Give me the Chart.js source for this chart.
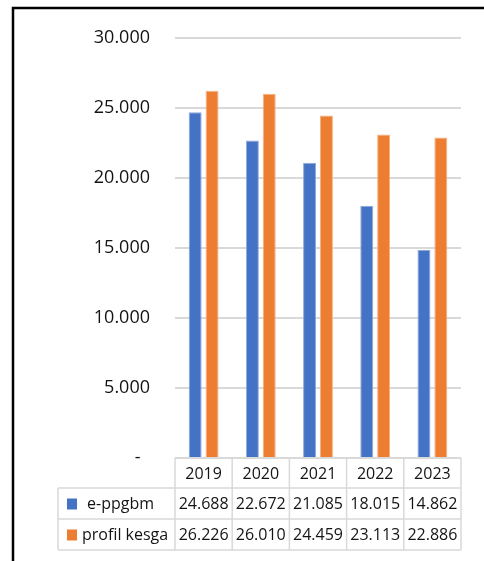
<!DOCTYPE html>
<html>
<head>
<meta charset="utf-8">
<script src="https://cdn.jsdelivr.net/npm/chart.js@4.4.1/dist/chart.umd.min.js"></script>
<style>
  html, body { margin: 0; padding: 0; background: #fff; }
  #wrap { position: relative; width: 484px; height: 561px; }
</style>
</head>
<body>
<div id="wrap"><canvas id="chart" width="484" height="561"></canvas></div>
<script>
// chart data
const years = ['2019', '2020', '2021', '2022', '2023'];
const eppgbm = [24688, 22672, 21085, 18015, 14862];
const profilKesga = [26226, 26010, 24459, 23113, 22886];
const seriesNames = ['e-ppgbm', 'profil kesga'];

const blue = '#4472C4';
const orange = '#ED7D31';
const textColor = '#141414';
const lineGrey = '#d9d9d9';

// 24688 -> "24.688"
function fmt(n) {
  return n.toString().replace(/\B(?=(\d{3})+(?!\d))/g, '.');
}

// frame + data table drawn under the plot, aligned to the x scale
const dataTable = {
  id: 'dataTable',
  afterDraw(chart) {
    const ctx = chart.ctx;
    const x = chart.scales.x;
    const area = chart.chartArea;
    const n = years.length;
    const colW = (area.right - area.left) / n;
    const rowH = 31;
    const legLeft = 58;
    const y0 = area.bottom;
    const y1 = y0 + rowH - 1;
    const y2 = y1 + rowH;
    const y3 = y2 + rowH;

    ctx.save();
    // outer frame (top + left edges only)
    ctx.strokeStyle = '#000';
    ctx.lineWidth = 2.5;
    ctx.beginPath();
    ctx.moveTo(13, 561);
    ctx.lineTo(13, 8);
    ctx.lineTo(484, 8);
    ctx.stroke();

    // table grid
    ctx.strokeStyle = lineGrey;
    ctx.lineWidth = 1.5;
    ctx.beginPath();
    ctx.moveTo(area.left, y0); ctx.lineTo(area.right, y0);
    [y1, y2, y3].forEach(y => { ctx.moveTo(legLeft, y); ctx.lineTo(area.right, y); });
    for (let i = 0; i <= n; i++) {
      const cx = area.left + i * colW;
      ctx.moveTo(cx, y0); ctx.lineTo(cx, y3);
    }
    ctx.moveTo(legLeft, y1); ctx.lineTo(legLeft, y3);
    ctx.stroke();

    // header + values
    ctx.fillStyle = textColor;
    ctx.font = '16px "Open Sans"';
    ctx.textAlign = 'center';
    ctx.textBaseline = 'middle';
    years.forEach((yr, i) => {
      const cx = x.getPixelForValue(i);
      ctx.fillText(yr, cx, (y0 + y1) / 2 + 1);
      ctx.fillText(fmt(eppgbm[i]), cx, (y1 + y2) / 2 + 1);
      ctx.fillText(fmt(profilKesga[i]), cx, (y2 + y3) / 2 + 1);
    });

    // legend keys
    ctx.textAlign = 'left';
    [[blue, y1, y2], [orange, y2, y3]].forEach(([col, a, b], k) => {
      const my = (a + b) / 2;
      ctx.fillStyle = col;
      ctx.fillRect(67, my - 5, 10, 11);
      ctx.fillStyle = textColor;
      ctx.fillText(seriesNames[k], k === 0 ? 87 : 82, my + 1);
    });
    ctx.restore();
  }
};

const ctx = document.getElementById('chart').getContext('2d');
new Chart(ctx, {
  type: 'bar',
  data: {
    labels: years,
    datasets: [
      {
        label: seriesNames[0],
        data: eppgbm,
        backgroundColor: blue,
        borderColor: '#8eaadb',
        borderWidth: 1,
        borderSkipped: 'bottom',
        barPercentage: 0.77,
        categoryPercentage: 0.59,
      },
      {
        label: seriesNames[1],
        data: profilKesga,
        backgroundColor: orange,
        borderColor: '#f4b183',
        borderWidth: 1,
        borderSkipped: 'bottom',
        barPercentage: 0.77,
        categoryPercentage: 0.59,
      },
    ],
  },
  options: {
    responsive: false,
    animation: false,
    layout: { padding: { top: 38, right: 23, bottom: 103, left: 0 } },
    plugins: {
      legend: { display: false },
      tooltip: { enabled: false },
    },
    scales: {
      x: { display: false },
      y: {
        min: 0,
        max: 30000,
        border: { display: false },
        grid: { color: lineGrey, lineWidth: 2, drawTicks: false },
        afterFit: (scale) => { scale.width = 175; },
        ticks: {
          stepSize: 5000,
          padding: 25,
          color: textColor,
          font: { family: 'Open Sans', size: 18 },
          callback: (v) => v === 0 ? '-  ' : fmt(v),
        },
      },
    },
  },
  plugins: [dataTable],
});
</script>
</body>
</html>
